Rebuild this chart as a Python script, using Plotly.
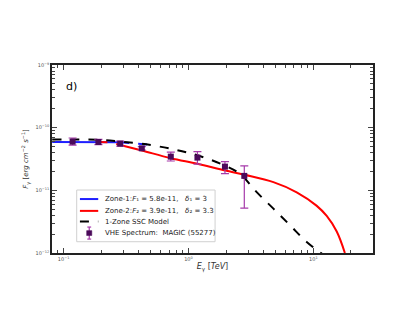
import plotly.graph_objects as go

# VHE spectrum points (MAGIC, MJD 55277)
data_E = [0.118, 0.19, 0.284, 0.423, 0.722, 1.18, 1.96, 2.80]
data_F = [5.98e-11, 5.90e-11, 5.56e-11, 4.68e-11, 3.45e-11, 3.33e-11, 2.39e-11, 1.70e-11]
data_F_hi = [6.84e-11, 6.52e-11, 6.12e-11, 4.98e-11, 4.08e-11, 4.15e-11, 2.88e-11, 2.45e-11]
data_F_lo = [5.28e-11, 5.37e-11, 5.09e-11, 4.40e-11, 2.94e-11, 2.61e-11, 1.85e-11, 5.19e-12]

# zone 1 model
z1_E = [0.081, 0.15, 0.284]
z1_F = [5.9e-11, 5.9e-11, 5.85e-11]
z1_E_dash = [0.284, 0.37, 0.49]
z1_F_dash = [5.85e-11, 5.6e-11, 5.33e-11]

# zone 2 model
z2_E_dash = [0.19, 0.24, 0.284]
z2_F_dash = [5.9e-11, 5.8e-11, 5.3e-11]
z2_E = [0.284, 0.424, 0.722, 1.18, 1.97, 2.81, 4.79, 7.36, 10.6, 12.8, 15.4, 17.9]
z2_F = [5.3e-11, 4.32e-11, 3.26e-11, 2.65e-11, 2.07e-11, 1.77e-11, 1.35e-11,
        9.3e-12, 5.7e-12, 3.9e-12, 2.2e-12, 1.0e-12]

# one-zone SSC model
ssc_E = [0.081, 0.19, 0.284, 0.424, 0.722, 1.18, 1.97, 2.59, 3.52, 4.79, 6.52, 8.85, 11.7]
ssc_F = [6.45e-11, 6.4e-11, 6.0e-11, 5.55e-11, 4.6e-11, 3.62e-11, 2.47e-11,
         1.83e-11, 9.35e-12, 5.1e-12, 2.76e-12, 1.5e-12, 9.8e-13]

x_ticks = [0.1, 1, 10]
x_ticklabels = ["10<sup>−1</sup>", "10<sup>0</sup>", "10<sup>1</sup>"]
y_ticks = [1e-12, 1e-11, 1e-10, 1e-9]
y_ticklabels = ["10<sup>−12</sup>", "10<sup>−11</sup>", "10<sup>−10</sup>", "10<sup>−9</sup>"]
x_minor = [m * d for d in (0.01, 0.1, 1, 10) for m in range(2, 10)]
y_minor = [m * d for d in (1e-12, 1e-11, 1e-10) for m in range(2, 10)]

legend_labels = ["Zone-1:<i>F</i>₁ = 5.8e-11,   <i>δ</i>₁ = 3",
                 "Zone-2:<i>F</i>₂ = 3.9e-11,   <i>δ</i>₂ = 3.3",
                 "1-Zone SSC Model",
                 "VHE Spectrum:  MAGIC (55277)"]

BLUE = "#1f1fff"
RED = "#ff0000"
MARK = "#4b0a5a"
ERR = "#a63aaa"

fig = go.Figure()

fig.add_trace(go.Scatter(x=z1_E, y=z1_F, mode="lines", line=dict(color=BLUE, width=2)))
fig.add_trace(go.Scatter(x=z1_E_dash, y=z1_F_dash, mode="lines",
                         line=dict(color=BLUE, width=2, dash="dash")))
fig.add_trace(go.Scatter(x=z2_E, y=z2_F, mode="lines", line=dict(color=RED, width=2, shape="spline")))
fig.add_trace(go.Scatter(x=z2_E_dash, y=z2_F_dash, mode="lines",
                         line=dict(color=RED, width=2, dash="dash")))
fig.add_trace(go.Scatter(x=ssc_E, y=ssc_F, mode="lines",
                         line=dict(color="black", width=2, dash="dash", shape="spline")))

err_plus = [h - f for h, f in zip(data_F_hi, data_F)]
err_minus = [f - l for f, l in zip(data_F, data_F_lo)]
fig.add_trace(go.Scatter(
    x=data_E, y=data_F, mode="markers",
    marker=dict(symbol="square", size=6, color=MARK),
    error_y=dict(type="data", symmetric=False, array=err_plus, arrayminus=err_minus,
                 color=ERR, thickness=1.2, width=4),
))

fig.add_annotation(text="d)", x=0.037, y=0.885, xref="paper", yref="paper",
                   showarrow=False, xanchor="left", yanchor="middle",
                   font=dict(size=11, color="black"))

# hand-made legend box (matplotlib style, tight rows)
fig.add_shape(type="rect", xref="paper", yref="paper", x0=0.077, x1=0.508, y0=0.06, y1=0.335,
              line=dict(color="#d0d0d0", width=1), fillcolor="rgba(255,255,255,0.85)", layer="above")
rows_y = [0.287, 0.224, 0.167, 0.106]
line_styles = [dict(color=BLUE, width=2), dict(color=RED, width=2),
               dict(color="black", width=2, dash="dash")]
for ry, st in zip(rows_y[:3], line_styles):
    fig.add_shape(type="line", xref="paper", yref="paper", x0=0.087, x1=0.144, y0=ry, y1=ry,
                  line=st, layer="above")
ry = rows_y[3]
fig.add_shape(type="line", xref="paper", yref="paper", x0=0.116, x1=0.116, y0=ry - 0.032, y1=ry + 0.032,
              line=dict(color=ERR, width=1.2), layer="above")
for cy in (ry - 0.032, ry + 0.032):
    fig.add_shape(type="line", xref="paper", yref="paper", x0=0.11, x1=0.122, y0=cy, y1=cy,
                  line=dict(color=ERR, width=1.2), layer="above")
fig.add_shape(type="rect", xref="paper", yref="paper", x0=0.108, x1=0.124, y0=ry - 0.013, y1=ry + 0.013,
              line=dict(color=MARK, width=0.5), fillcolor=MARK, layer="above")
for ry, lab in zip(rows_y, legend_labels):
    fig.add_annotation(text=lab, x=0.16, y=ry, xref="paper", yref="paper", showarrow=False,
                       xanchor="left", yanchor="middle", font=dict(size=7, color="#222"))

axis_common = dict(
    type="log", showline=True, linecolor="#222", linewidth=1.5, mirror="allticks",
    ticks="inside", ticklen=5, tickcolor="#444", showgrid=False, zeroline=False,
    tickfont=dict(size=5, color="#555"), automargin=False,
)

fig.update_xaxes(**axis_common, range=[-1.093, 1.478], tickvals=x_ticks, ticktext=x_ticklabels,
                 minor=dict(tickvals=x_minor, ticks="inside", ticklen=3, tickcolor="#444", showgrid=False),
                 title=dict(text="<i>E</i><sub>γ</sub> [<i>TeV</i>]", font=dict(size=8, color="#333"), standoff=3))
fig.update_yaxes(**axis_common, range=[-12, -9], tickvals=y_ticks, ticktext=y_ticklabels,
                 minor=dict(tickvals=y_minor, ticks="inside", ticklen=3, tickcolor="#444", showgrid=False),
                 title=dict(text="<i>F</i><sub>γ</sub> [<i>erg cm</i><sup>−2</sup> <i>s</i><sup>−1</sup>]",
                            font=dict(size=7, color="#333"), standoff=6))

fig.update_layout(
    width=415, height=321,
    margin=dict(l=44, r=50, t=57, b=76),
    paper_bgcolor="white", plot_bgcolor="white",
    font=dict(family="DejaVu Sans"),
    showlegend=False,
)

fig.write_html("out.html")
